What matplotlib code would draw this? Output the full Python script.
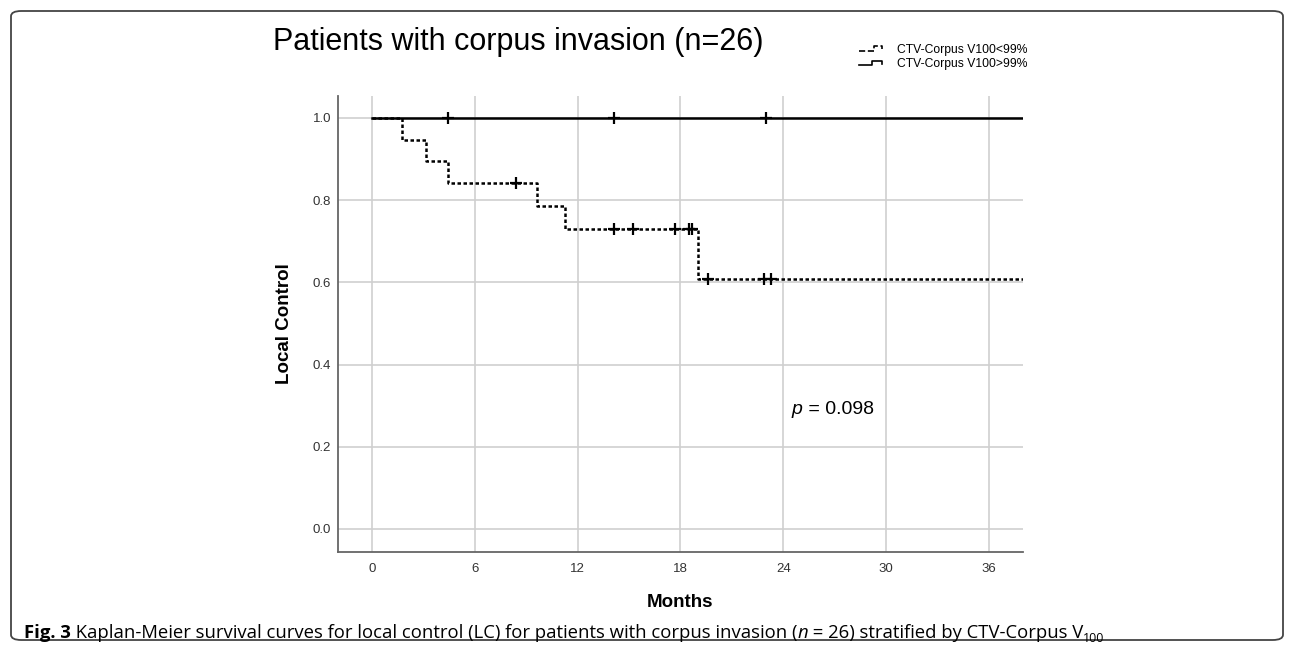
import numpy as np
import matplotlib
matplotlib.use("Agg")
import matplotlib.pyplot as plt
from matplotlib.legend_handler import HandlerBase
from matplotlib.lines import Line2D
from matplotlib.patches import FancyBboxPatch
from matplotlib.transforms import offset_copy

# group with CTV-Corpus V100 < 99% (dotted)
low_times = [1.75, 3.15, 4.43, 9.6, 11.26, 19.0]
low_surv = [0.947, 0.895, 0.842, 0.786, 0.730, 0.608]
low_censor = [8.4, 14.1, 15.2, 17.7, 18.5, 18.7, 19.6, 22.9, 23.3]
low_end = 40

# group with CTV-Corpus V100 > 99% (solid)
high_times = []
high_surv = []
high_censor = [4.4, 14.1, 23.0]
high_end = 40

labels = ["CTV-Corpus V100<99%", "CTV-Corpus V100>99%"]
x_ticks = [0, 6, 12, 18, 24, 30, 36]
y_ticks = [0.0, 0.2, 0.4, 0.6, 0.8, 1.0]

plt.rcParams["font.family"] = ["Liberation Sans", "DejaVu Sans"]


def km_steps(times, surv, end):
    t = [0] + list(times) + [end]
    s = [1.0] + list(surv) + [surv[-1] if surv else 1.0]
    return np.array(t), np.array(s)


def surv_at(times, surv, x):
    t, s = km_steps(times, surv, 1e9)
    idx = np.searchsorted(t, x, side="right") - 1
    return s[idx]


class StepHandler(HandlerBase):
    def __init__(self, shape):
        super().__init__()
        self.shape = shape

    def create_artists(self, legend, orig_handle, xdescent, ydescent,
                       width, height, fontsize, trans):
        xs = np.array(self.shape[0]) * width - xdescent
        ys = np.array(self.shape[1]) * height - ydescent
        line = Line2D(xs, ys, color=orig_handle.get_color(),
                      linestyle=orig_handle.get_linestyle(),
                      linewidth=1.2)
        line.set_transform(trans)
        return [line]


fig = plt.figure(figsize=(12.9, 6.51), dpi=100)
ax = fig.add_axes([0.2620, 0.1521, 0.5310, 0.7005])

lt, ls = km_steps(low_times, low_surv, low_end)
ht, hs = km_steps(high_times, high_surv, high_end)

dotted = (0, (1.4, 1.0))
l1, = ax.step(lt, ls, where="post", color="black", lw=1.8, linestyle=dotted, zorder=3)
l2, = ax.step(ht, hs, where="post", color="black", lw=1.8, zorder=3)

ax.plot(low_censor, [surv_at(low_times, low_surv, c) for c in low_censor],
        linestyle="none", marker="+", ms=9, mew=1.6, color="black", zorder=4)
ax.plot(high_censor, [surv_at(high_times, high_surv, c) for c in high_censor],
        linestyle="none", marker="+", ms=9, mew=1.6, color="black", zorder=4)

ax.set_xlim(-2, 38)
ax.set_ylim(-0.056, 1.0535)
ax.set_xticks(x_ticks)
ax.set_yticks(y_ticks)
ax.set_yticklabels([f"{v:.1f}" for v in y_ticks])
ax.grid(True, color="#cfcfcf", lw=1.2)
ax.set_axisbelow(True)
ax.tick_params(length=0, labelsize=9.5, labelcolor="#333333")
ax.tick_params(axis="x", pad=8)
ax.tick_params(axis="y", pad=5)
for side in ["top", "right"]:
    ax.spines[side].set_visible(False)
for side in ["left", "bottom"]:
    ax.spines[side].set_color("#666666")
    ax.spines[side].set_linewidth(1.3)

ax.text(-0.0774, 0.5, "Local Control", transform=ax.transAxes, rotation=90,
        ha="center", va="center", fontsize=13.5, fontweight="bold")
ax.text(0.499, -0.11, "Months", transform=ax.transAxes,
        ha="center", va="center", fontsize=13.5, fontweight="bold")

fig.text(273 / 1290, 1 - 50 / 651, "Patients with corpus invasion (n=26)",
         fontsize=22, va="baseline", ha="left")

leg = fig.legend([l1, l2], labels, loc="upper left",
                 bbox_to_anchor=(859 / 1290, 1 - 44 / 651), frameon=False,
                 fontsize=8.75, handlelength=2.2, handletextpad=0.9,
                 labelspacing=0.2, borderpad=0, borderaxespad=0,
                 handler_map={l1: StepHandler(([0, 0.4, 0.55, 0.55, 0.85, 0.85],
                                               [0.25, 0.25, 0.25, 0.8, 0.8, 0.5])),
                              l2: StepHandler(([0, 0.5, 0.5, 0.85, 0.85],
                                               [0.25, 0.25, 0.8, 0.8, 0.45]))})

# p-value
fig.canvas.draw()
renderer = fig.canvas.get_renderer()
pt = ax.text(24.5, 0.29, "p", fontsize=14, fontstyle="italic", va="center", ha="left")
pw = pt.get_window_extent(renderer).width
ax.text(24.5, 0.29, " = 0.098", fontsize=14, va="center", ha="left",
        transform=offset_copy(ax.transData, fig=fig, x=pw, y=0, units="dots"))

# caption
cap_y = 1 - 638 / 651
cap_font = ["Open Sans", "DejaVu Sans"]
parts = [("Fig. 3", "bold", "normal"),
         (" Kaplan-Meier survival curves for local control (LC) for patients with corpus invasion (", "normal", "normal"),
         ("n", "normal", "italic"),
         (" = 26) stratified by CTV-Corpus V", "normal", "normal")]
xoff = 0
for txt, weight, style in parts:
    t = fig.text(24 / 1290, cap_y, txt, fontsize=13.3, family=cap_font, fontweight=weight,
                 fontstyle=style, va="baseline", ha="left",
                 transform=offset_copy(fig.transFigure, fig=fig, x=xoff, y=0, units="dots"))
    xoff += t.get_window_extent(renderer).width
fig.text(24 / 1290, cap_y, "100", fontsize=9, family=cap_font, va="baseline", ha="left",
         transform=offset_copy(fig.transFigure, fig=fig, x=xoff, y=-4, units="dots"))

# frame around the whole figure
frame = FancyBboxPatch((11 / 1290, 11 / 651), 1272 / 1290, 629 / 651,
                       boxstyle="round,pad=0,rounding_size=0.008",
                       transform=fig.transFigure, fill=False,
                       edgecolor="#444444", lw=1.3)
fig.patches.append(frame)

fig.savefig("out.png", dpi=100)
